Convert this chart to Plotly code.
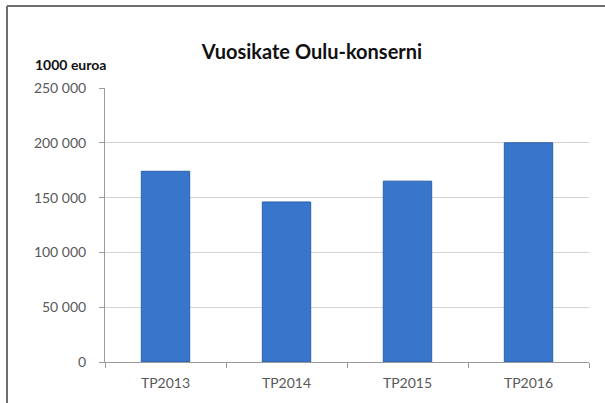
import plotly.graph_objects as go

categories = ["TP2013", "TP2014", "TP2015", "TP2016"]
values = [174000, 146000, 165000, 200000]
y_ticks = [0, 50000, 100000, 150000, 200000, 250000]

title_text = "Vuosikate Oulu-konserni"
unit_text = "1000 euroa"

W, H = 605, 403
L, R, T, B = 105, 16, 88, 41
pw, ph = W - L - R, H - T - B

def px(x):
    return (x - L) / pw

def py(y):
    return (H - B - y) / ph

fig = go.Figure()
fig.add_trace(go.Bar(
    x=categories, y=values,
    marker=dict(color="#3876cc", line=dict(color="#2b5fa8", width=1)),
    width=0.4,
))

fig.update_layout(
    width=W, height=H,
    margin=dict(l=L, r=R, t=T, b=B, pad=0),
    paper_bgcolor="white", plot_bgcolor="white",
    separators=", ",
    showlegend=False,
    font=dict(family="Lato, Open Sans, sans-serif", color="#595959", size=14),
    title=dict(text=title_text, x=312 / W, xanchor="center", xref="container",
               y=1 - 52 / H, yanchor="middle", yref="container",
               font=dict(family="Lato, Open Sans, sans-serif", size=20, color="#111111", weight="bold")),
    xaxis=dict(
        type="category", showline=True, linecolor="#9a9a9a", linewidth=1,
        ticks="outside", tickson="boundaries", ticklen=5, tickcolor="#9a9a9a",
        showgrid=False, range=[-0.5, 3.5], ticklabelstandoff=8,
        tickfont=dict(size=14, color="#595959"),
    ),
    yaxis=dict(
        range=[0, 250000], tickvals=y_ticks, tickformat=",d",
        showline=True, linecolor="#9a9a9a", linewidth=1,
        ticks="outside", ticklen=5, tickcolor="#9a9a9a",
        showgrid=True, gridcolor="#d2d2d2", gridwidth=1,
        zeroline=False, ticklabelstandoff=10,
        tickfont=dict(size=14, color="#595959"),
    ),
    annotations=[dict(
        text="<b>" + unit_text + "</b>", xref="paper", yref="paper",
        x=px(33), y=py(64), xanchor="left", yanchor="middle", showarrow=False,
        font=dict(size=14, color="#111111"),
    )],
    shapes=[
        dict(type="line", xref="paper", yref="paper", x0=px(7), x1=px(605), y0=py(6), y1=py(6),
             line=dict(color="#6e6e6e", width=2)),
        dict(type="line", xref="paper", yref="paper", x0=px(7), x1=px(7), y0=py(6), y1=py(403),
             line=dict(color="#6e6e6e", width=2)),
    ],
)

fig.write_html("out.html", config={"displayModeBar": False},
               post_script="document.body.style.margin='0';document.body.style.overflow='hidden';")
